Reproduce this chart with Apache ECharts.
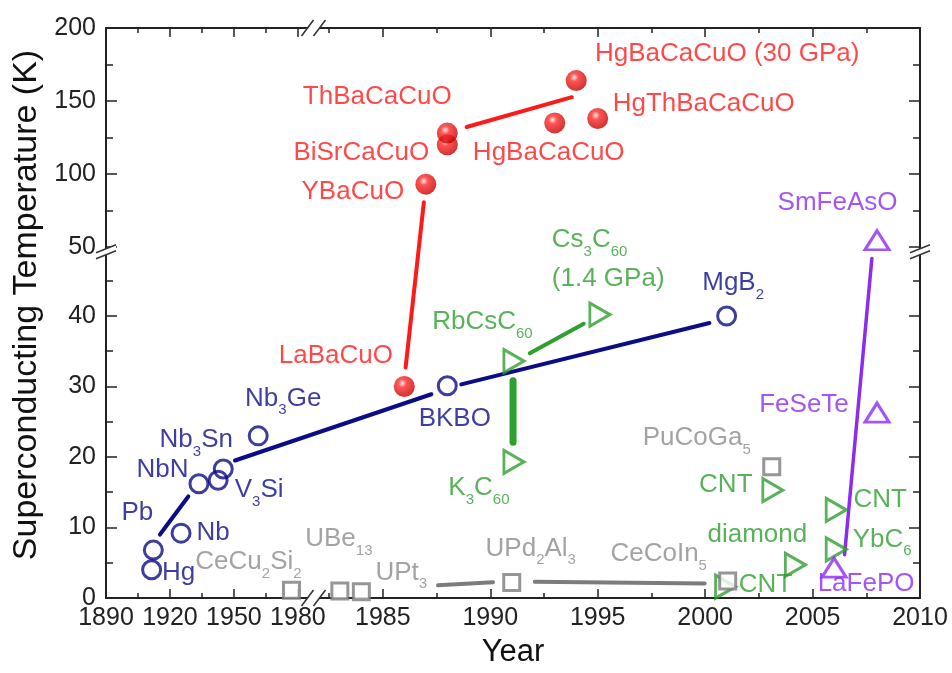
<!DOCTYPE html>
<html><head><meta charset="utf-8">
<script src="https://cdn.jsdelivr.net/npm/echarts@6/dist/echarts.min.js"></script>
<style>html,body{margin:0;padding:0;background:#fff}#c{width:952px;height:673px}</style>
</head><body><div id="c"></div>
<script>
const FONT = '"Liberation Sans", Arial, Helvetica, sans-serif';

// ---- tick values ----
const xTickYears = [1890, 1920, 1950, 1980, 1985, 1990, 1995, 2000, 2005, 2010];
const xMinorYears = [1905, 1935, 1965, 1982.5, 1987.5, 1992.5, 1997.5, 2002.5, 2007.5];
const yTickValues = [0, 10, 20, 30, 40, 50, 100, 150, 200];
const yMinorValues = [5, 15, 25, 35, 45, 75, 125, 175];

// ---- data (year, Tc in K) ----
const blueNames = ['Hg', 'Pb', 'Nb', 'NbN', 'Nb_3Sn', 'V_3Si', 'Nb_3Ge', 'BKBO', 'MgB_2'];
const blueYears = [1911.4, 1912.2, 1925.2, 1933.6, 1945.0, 1942.6, 1961.4, 1988.0, 2001.0];
const blueTc = [4.0, 6.8, 9.2, 16.2, 18.3, 16.7, 23.0, 30.1, 40.0];

const redNames = ['LaBaCuO', 'YBaCuO', 'BiSrCaCuO', 'ThBaCaCuO', 'HgBaCaCuO', 'HgThBaCaCuO', 'HgBaCaCuO (30 GPa)'];
const redYears = [1986.0, 1987.0, 1988.0, 1988.0, 1993.0, 1995.0, 1994.0];
const redTc = [30.0, 93, 120, 128, 135, 138, 164];

const greenNames = ['K_3C_60', 'RbCsC_60', 'Cs_3C_60\n(1.4 GPa)', 'CNT', 'CNT', 'YbC_6', 'diamond', 'CNT'];
const greenYears = [1991.1, 1991.1, 1995.1, 2003.15, 2006.1, 2006.1, 2004.2, 2000.95];
const greenTc = [19.3, 33.6, 40.2, 15.3, 12.5, 6.9, 4.7, 1.6];

const grayNames = ['CeCu_2Si_2', 'UBe_13', 'UPt_3', 'UPd_2Al_3', 'CeCoIn_5', 'PuCoGa_5'];
const grayYears = [1977.0, 1983.0, 1984.0, 1991.0, 2001.05, 2003.1];
const grayTc = [1.1, 1.0, 0.9, 2.2, 2.4, 18.6];

const purpleNames = ['LaFePO', 'FeSeTe', 'SmFeAsO'];
const purpleYears = [2006.0, 2008.0, 2008.0];
const purpleTc = [4.3, 26.3, 54.6];

// ---- trend line segments: [[year, Tc], [year, Tc]] ----
const blueTrend = [[[1915.3, 9.0], [1928.6, 14.4]], [[1950.5, 19.5], [1987.26, 28.9]], [[1988.65, 30.3], [2000.2, 39.0]]];
const redTrend = [[[1986.06, 32.7], [1986.91, 80.7]], [[1988.9, 132.2], [1993.8, 152.6]]];
const greenThickTrend = [[[1991.06, 30.8], [1991.06, 22.1]]];
const greenTrend = [[[1991.84, 34.7], [1994.35, 38.9]]];
const grayTrend = [[[1987.57, 1.8], [1990.13, 2.25]], [[1992.07, 2.3], [1999.98, 2.07]]];
const purpleTrend = [[[2007.76, 48.3], [2006.49, 6.15]]];

// ---- label placement (offset of main text centre from marker, px) ----
const bluePlace = [[27, 3], [-16, -37], [32, 0], [-36.5, -14], [-27, -29], [41, 10], [25, -37], [7.5, 33], [6.5, -33]];
const redPlace = [[-68.5, -31], [-73, 8], [-86, 8], [-70, -36], [-6, 30], [106, -15], [151, -27]];
const greenPlace = [[-35, 26], [-31.5, -39], [-48, -74.6, 'left'], [-47, -5], [44, -10], [46, -10], [-38, -30], [40, -2]];
const grayPlace = [[-43, -28], [-1, -52], [40, -19], [19, -34], [-69, -27], [-75, -29]];
const purplePlace = [[32, 16.5], [-73, -8], [-39.5, -37]];

// ---- broken-axis scales (display units) ----
const X_MAX = 814.5, Y_MAX = 574;
function tx(year) {
  return year <= 1981 ? (year - 1890) * 64 / 30 : 277 + (year - 1985) * 21.5;
}
function ty(k) {
  if (k <= 45) return k * 7.1;
  if (k < 50) return 319.5 + (k - 45) * 6.8;
  return 353.5 + (k - 50) * 1.47;
}
const xMajorD = xTickYears.map(tx), xMinorD = xMinorYears.map(tx);
const yMajorD = yTickValues.map(ty), yMinorD = yMinorValues.map(ty);
function labelFor(v, ds, vals) {
  for (let i = 0; i < ds.length; i++) if (Math.abs(ds[i] - v) < 0.01) return String(vals[i]);
  return '';
}

const LINE_H = 32, LINE2_H = 39, MAIN_C = 13;
function toRich(name) {
  return name.split('\n').map((ln, li) => ln.split(/_(\d+)/).map((p, i) => {
    if (p === '') return '';
    return i % 2 ? '{s|' + p + '}' : '{' + (li ? 'g' : 'n') + '|' + p + '}';
  }).join('')).join('\n');
}

function makePoints(names, years, tcs, place, color) {
  return names.map((nm, i) => {
    const lines = nm.split('\n').length;
    const boxH = lines === 1 ? LINE_H : LINE_H + LINE2_H;
    const pl = place[i];
    return {
      value: [tx(years[i]), ty(tcs[i])],
      label: {
        show: true, position: 'inside',
        align: pl[2] || 'center', verticalAlign: 'middle',
        offset: [pl[0], pl[1] + boxH / 2 - MAIN_C],
        formatter: toRich(nm),
        color: color,
        rich: {
          n: {fontSize: 26, fontFamily: FONT, color: color, verticalAlign: 'top', lineHeight: LINE_H},
          g: {fontSize: 26, fontFamily: FONT, color: color, verticalAlign: 'top', lineHeight: LINE2_H, padding: [7, 0, 0, 0]},
          s: {fontSize: 15, fontFamily: FONT, color: color, verticalAlign: 'bottom'}
        }
      }
    };
  });
}

function trendSeries(segs, color, width) {
  return segs.map(seg => ({
    type: 'line', silent: true, symbol: 'none', z: 2, animation: false,
    data: seg.map(p => [tx(p[0]), ty(p[1])]),
    lineStyle: {color: color, width: width, cap: 'round'}
  }));
}

const C_BLUE = '#0c0c86', C_BLUE_T = '#0e0e88';
const C_RED = '#ff1a1a';
const C_GREEN = '#2f9f2f';
const C_GRAY = '#7c7c7c', C_GRAY_T = '#8c8c8c';
const C_PURPLE = '#8c2cf2';

const sphere = {
  type: 'radial', x: 0.4, y: 0.35, r: 0.65,
  colorStops: [{offset: 0, color: '#ffe6e6'}, {offset: 0.3, color: '#ff2a2a'}, {offset: 1, color: '#c40000'}]
};

const axisCol = '#222';
function xAx(pos, major) {
  return {
    type: 'value', min: 0, max: X_MAX, position: pos,
    axisLine: {show: major, onZero: false, lineStyle: {color: axisCol, width: 2}},
    axisTick: {show: true, inside: true, length: major ? 9 : 5, customValues: major ? xMajorD : xMinorD, lineStyle: {color: axisCol, width: 1.5}},
    axisLabel: {show: major && pos === 'bottom', customValues: xMajorD, margin: 8, fontSize: 25, fontFamily: FONT, color: '#222',
      formatter: v => labelFor(v, xMajorD, xTickYears)},
    splitLine: {show: false}
  };
}
function yAx(pos, major) {
  return {
    type: 'value', min: 0, max: Y_MAX, position: pos,
    axisLine: {show: major, onZero: false, lineStyle: {color: axisCol, width: 2}},
    axisTick: {show: true, inside: true, length: major ? 11 : 7, customValues: major ? yMajorD : yMinorD, lineStyle: {color: axisCol, width: 1.5}},
    axisLabel: {show: major && pos === 'left', customValues: yMajorD, margin: 10, fontSize: 25, fontFamily: FONT, color: '#222',
      formatter: v => labelFor(v, yMajorD, yTickValues)},
    splitLine: {show: false}
  };
}

const xAxes = [xAx('bottom', true), xAx('bottom', false), xAx('top', true), xAx('top', false)];
xAxes[0].name = 'Year';
xAxes[0].nameLocation = 'middle';
xAxes[0].nameGap = 39;
xAxes[0].nameTextStyle = {fontSize: 31, fontFamily: FONT, color: '#111'};
const yAxes = [yAx('left', true), yAx('left', false), yAx('right', true), yAx('right', false)];
yAxes[0].name = 'Superconducting Temperature (K)';
yAxes[0].nameLocation = 'middle';
yAxes[0].nameGap = 62;
yAxes[0].nameTextStyle = {fontSize: 34, fontFamily: FONT, color: '#111', padding: [0, 0, 0, 16]};

const series = [].concat(
  trendSeries(grayTrend, C_GRAY, 4),
  trendSeries(blueTrend, C_BLUE, 4),
  trendSeries(redTrend, C_RED, 4),
  trendSeries(greenThickTrend, C_GREEN, 7),
  trendSeries(greenTrend, C_GREEN, 4),
  trendSeries(purpleTrend, C_PURPLE, 3.5),
  [
    {type: 'scatter', z: 3, animation: false, symbol: 'triangle', symbolRotate: -90, symbolSize: [23, 20],
      itemStyle: {color: 'rgba(0,0,0,0)', borderColor: C_GREEN, borderWidth: 3},
      data: makePoints(greenNames, greenYears, greenTc, greenPlace, C_GREEN)},
    {type: 'scatter', z: 3, animation: false, symbol: 'rect', symbolSize: 16,
      itemStyle: {color: '#fff', borderColor: C_GRAY, borderWidth: 3},
      data: makePoints(grayNames, grayYears, grayTc, grayPlace, C_GRAY_T)},
    {type: 'scatter', z: 3, animation: false, symbol: 'circle', symbolSize: 18,
      itemStyle: {color: 'rgba(0,0,0,0)', borderColor: C_BLUE, borderWidth: 3},
      data: makePoints(blueNames, blueYears, blueTc, bluePlace, C_BLUE_T)},
    {type: 'scatter', z: 3, animation: false, symbol: 'circle', symbolSize: 21,
      itemStyle: {color: sphere},
      data: makePoints(redNames, redYears, redTc, redPlace, C_RED)},
    {type: 'scatter', z: 3, animation: false, symbol: 'triangle', symbolSize: [24, 19],
      itemStyle: {color: 'rgba(0,0,0,0)', borderColor: C_PURPLE, borderWidth: 3},
      data: makePoints(purpleNames, purpleYears, purpleTc, purplePlace, C_PURPLE)}
  ]
);

const chart = echarts.init(document.getElementById('c'), null, {renderer: 'canvas'});
chart.setOption({
  backgroundColor: '#fff',
  animation: false,
  grid: {left: 106, top: 28, width: 814, height: 574, containLabel: false},
  xAxis: xAxes,
  yAxis: yAxes,
  series: series
});

// axis break marks
const bxD = (tx(1980) + tx(1982.5)) / 2;
const byD = ty(49.3);
const bx = chart.convertToPixel({xAxisIndex: 0}, bxD);
const by = chart.convertToPixel({yAxisIndex: 0}, byD);
const pTop = chart.convertToPixel({yAxisIndex: 0}, Y_MAX);
const pBot = chart.convertToPixel({yAxisIndex: 0}, 0);
const pLeft = chart.convertToPixel({xAxisIndex: 0}, 0);
const pRight = chart.convertToPixel({xAxisIndex: 0}, X_MAX);
function hBreak(cx, cy) {
  return [
    {type: 'polygon', z: 100, shape: {points: [[cx - 12, cy + 8], [cx, cy - 8], [cx + 12, cy - 8], [cx, cy + 8]]}, style: {fill: '#fff'}},
    {type: 'line', z: 101, shape: {x1: cx - 12, y1: cy + 8, x2: cx, y2: cy - 8}, style: {stroke: '#333', lineWidth: 1.5}},
    {type: 'line', z: 101, shape: {x1: cx, y1: cy + 8, x2: cx + 12, y2: cy - 8}, style: {stroke: '#333', lineWidth: 1.5}}
  ];
}
function vBreak(cx, cy) {
  return [
    {type: 'polygon', z: 100, shape: {points: [[cx - 10, cy + 1], [cx + 10, cy - 7], [cx + 10, cy - 1], [cx - 10, cy + 7]]}, style: {fill: '#fff'}},
    {type: 'line', z: 101, shape: {x1: cx - 10, y1: cy + 1, x2: cx + 10, y2: cy - 7}, style: {stroke: '#333', lineWidth: 1.5}},
    {type: 'line', z: 101, shape: {x1: cx - 10, y1: cy + 7, x2: cx + 10, y2: cy - 1}, style: {stroke: '#333', lineWidth: 1.5}}
  ];
}
chart.setOption({
  graphic: [].concat(hBreak(bx, pBot), hBreak(bx, pTop), vBreak(pLeft, by), vBreak(pRight, by))
});
</script>
</body></html>
